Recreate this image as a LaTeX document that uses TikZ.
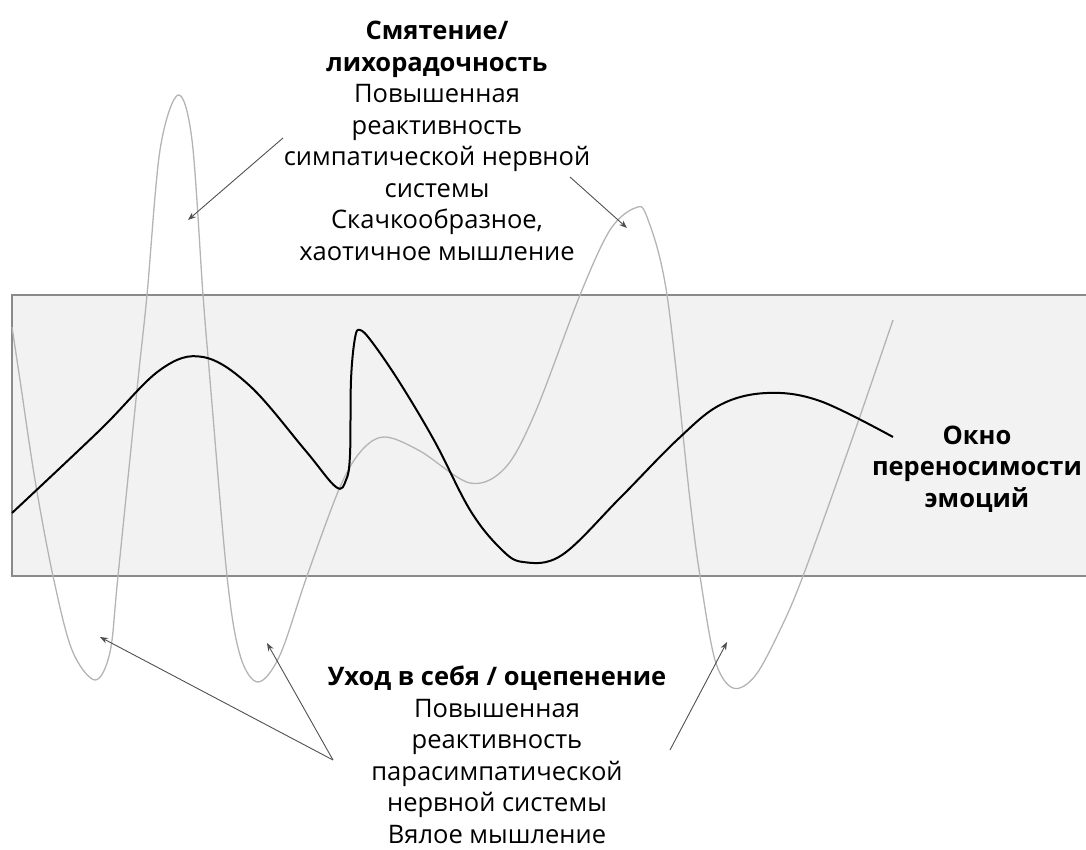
\documentclass[tikz,border=0pt]{standalone}
\usepackage{fontspec}
\setmainfont{Open Sans}
\usetikzlibrary{arrows.meta}
\definecolor{winfill}{HTML}{F2F2F2}
\definecolor{winborder}{HTML}{8A8A8A}
\definecolor{wavegray}{HTML}{B4B4B4}
\definecolor{arrgray}{HTML}{505050}
\tikzset{
  txt/.style={align=center, inner sep=0pt, font=\fontsize{25.5}{31.5}\selectfont},
  pointer/.style={draw=arrgray, line width=0.9pt, -{Stealth[length=8pt,width=6pt]}},
  calmline/.style={line width=2pt, black},
  wildline/.style={line width=1.3pt, wavegray},
}
\begin{document}
\begin{tikzpicture}[x=1pt,y=-1pt]
\useasboundingbox (0,0) rectangle (1086,850);
% window of tolerance
\fill[winfill] (12,295) rectangle (1086,576);
\draw[winborder, line width=1.3pt] (1086,295) -- (12,295) -- (12,576) -- (1086,576);
% gray wild wave
\draw[wildline] plot[smooth, tension=0.55] coordinates {
 (12,327) (20,380) (35,480) (53,576) (72,650) (95,680) (110,652) (118,576)
 (138,380) (147,295) (160,150) (178,95) (192,140) (203,295) (210,380) (227,576)
 (240,655) (258,682) (280,655) (307,576) (340,487) (362,450) (385,437) (420,451) (470,483)
 (505,468) (535,413) (580,295) (610,230) (635,208) (647,217) (667,295) (690,500) (700,576)
 (715,660) (733,688) (755,676) (780,630) (803,576) (850,445) (893,320)};
% black calm wave
\draw[calmline] plot[smooth, tension=0.6] coordinates {
 (12,513) (100,430) (160,370) (203,357) (250,386) (305,450) (336,487)
 (346,480) (350,455) (351,380) (355,338) (360,330) (372,342) (400,383) (435,442)
 (470,510) (500,548) (523,562) (562,555) (620,498) (677,440) (720,405) (767,393) (820,401) (893,437)};
% texts
\node[txt] (top) at (437,141) {\textbf{Смятение/}\\\textbf{лихорадочность}\\Повышенная\\реактивность\\симпатической нервной\\системы\\Скачкообразное,\\хаотичное мышление};
\node[txt] (bottom) at (497,755) {\textbf{Уход в себя / оцепенение}\\Повышенная\\реактивность\\парасимпатической\\нервной системы\\Вялое мышление};
\node[txt] (win) at (977,469) {\textbf{Окно}\\\textbf{переносимости}\\\textbf{эмоций}};
% pointer coordinates
\coordinate (t1) at (283,138);
\coordinate (h1) at (188,220);
\coordinate (t2) at (570,177);
\coordinate (h2) at (627,228);
\coordinate (b0) at (333,760);
\coordinate (h3) at (100,637);
\coordinate (h4) at (267,643);
\coordinate (t5) at (670,750);
\coordinate (h5) at (727,642);
\draw[pointer] (t1) -- (h1);
\draw[pointer] (t2) -- (h2);
\draw[pointer] (b0) -- (h3);
\draw[pointer] (b0) -- (h4);
\draw[pointer] (t5) -- (h5);
\end{tikzpicture}
\end{document}
